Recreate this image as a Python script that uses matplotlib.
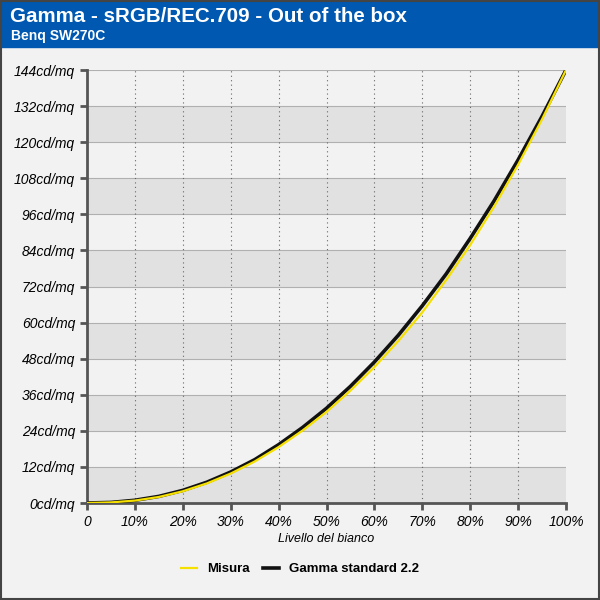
import matplotlib
matplotlib.use("Agg")
import matplotlib.pyplot as plt
from matplotlib.patches import Rectangle

levels = [0, 5, 10, 15, 20, 25, 30, 35, 40, 45, 50, 55, 60, 65, 70, 75, 80, 85, 90, 95, 100]
misura = [0, 0.2, 0.8, 2.0, 3.9, 6.5, 9.8, 13.8, 18.6, 24.1, 30.3, 37.4, 45.2, 53.9, 63.4, 74.2, 85.8, 98.6, 112.5, 127.6, 144]
gamma22 = [0, 0.19, 0.91, 2.2, 4.2, 6.9, 10.3, 14.4, 19.4, 25.1, 31.5, 38.8, 46.9, 55.8, 65.6, 76.2, 88.0, 100.5, 114.1, 128.6, 144]
xticks = [0, 10, 20, 30, 40, 50, 60, 70, 80, 90, 100]
yticks = list(range(0, 145, 12))
xticklabels = ["0"] + [f"{v}%" for v in xticks[1:]]
title = "Gamma - sRGB/REC.709 - Out of the box"
subtitle = "Benq SW270C"

fig = plt.figure(figsize=(6, 6), dpi=100, facecolor="#f2f2f2")
fig.patches.append(Rectangle((0, 1 - 47/600), 1, 47/600, transform=fig.transFigure, color="#0058b0", zorder=0))
fig.patches.append(Rectangle((0.002, 0.002), 0.996, 0.996, transform=fig.transFigure, fill=False, ec="#444444", lw=1.5, zorder=5))
fig.text(10/600, 1 - 16/600, title, color="white", fontsize=14.8, fontweight="bold", va="center", family="Liberation Sans")
fig.text(11/600, 1 - 36/600, subtitle, color="white", fontsize=10, fontweight="bold", va="center", family="Liberation Sans")

ax = fig.add_axes([87/600, 1 - 503/600, 479/600, 433/600])
ax.set_facecolor("#f2f2f2")
for i, y in enumerate(yticks[:-1]):
    ax.axhspan(y, y + 12, color="#e1e1e1" if i % 2 == 0 else "#f2f2f2", zorder=0, lw=0)
    ax.axhline(y + 12, color="#b0b0b0", lw=0.8, zorder=1)
for x in xticks[1:-1]:
    ax.axvline(x, color="#666666", lw=0.8, ls=(0, (1, 3)), zorder=1)

ax.plot(levels, gamma22, color="#111111", lw=2.6, zorder=3, label="Gamma standard 2.2")
ax.plot(levels, misura, color="#f5e000", lw=1.6, zorder=4, label="Misura")

ax.set_xlim(0, 100)
ax.set_ylim(0, 144)
ax.set_xticks(xticks)
ax.set_xticklabels(xticklabels, fontstyle="italic", fontsize=10, family="Liberation Sans")
ax.set_yticks(yticks)
ax.set_yticklabels([f"{v}cd/mq" for v in yticks], fontstyle="italic", fontsize=10, family="Liberation Sans")
for s in ["top", "right"]:
    ax.spines[s].set_visible(False)
for s in ["left", "bottom"]:
    ax.spines[s].set_color("#555555")
    ax.spines[s].set_linewidth(2)
ax.tick_params(direction="out", length=5, width=2, color="#555555")
ax.set_xlabel("Livello del bianco", fontstyle="italic", fontsize=9, family="Liberation Sans", labelpad=3)

h, l = ax.get_legend_handles_labels()
fig.legend(h[::-1], l[::-1], loc="center", bbox_to_anchor=(0.5, 1 - 569/600), ncol=2, frameon=False,
           prop={"weight": "bold", "size": 9.5, "family": "Liberation Sans"}, handlelength=1.2, columnspacing=1)
fig.savefig("out.png", dpi=100, facecolor=fig.get_facecolor())
